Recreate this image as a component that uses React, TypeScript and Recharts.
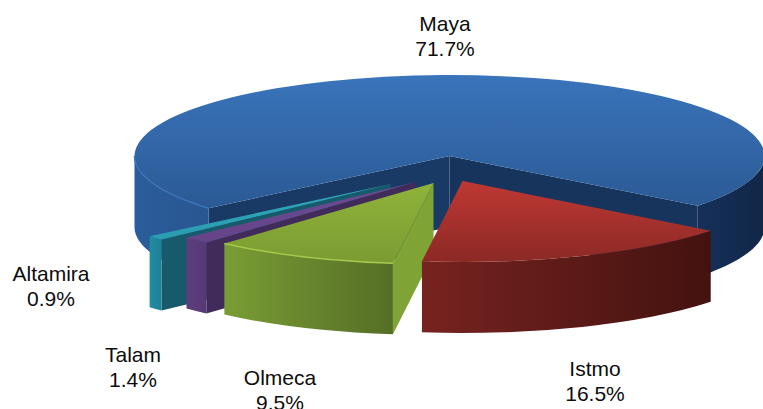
import React from "react";
import { PieChart, Pie } from "recharts";

const names = ["Maya", "Altamira", "Talam", "Olmeca", "Istmo"];
const shares = [71.7, 0.9, 1.4, 9.5, 16.5];
const chartData = names.map((name, i) => ({ name, value: shares[i] }));

const TILT = 81 / 315;
const DEPTH = 71;

type Look = {
  shift: [number, number];
  top: [string, string];
  walls: [string, string][];
  startFace: string;
  endFace: string;
  rim?: string;
  label: [number, number];
};

const looks: Record<string, Look> = {
  Maya: {
    shift: [0, 0],
    top: ["#3a74bb", "#2b5a95"],
    walls: [["#15305a", "#122748"], ["#2b5d9c", "#285690"]],
    startFace: "#17355c",
    endFace: "#1a3a66",
    rim: "#3a74ba",
    label: [-4.5, -125],
  },
  Altamira: {
    shift: [-59, 28],
    top: ["#2fa6bb", "#2a9cb0"],
    walls: [["#218ca3", "#1f8196"]],
    startFace: "#165a6b",
    endFace: "#165a6b",
    label: [-398.5, 125],
  },
  Talam: {
    shift: [-34, 26],
    top: ["#6e4c92", "#644388"],
    walls: [["#5e3f7e", "#553875"]],
    startFace: "#402b5a",
    endFace: "#402b5a",
    label: [-316.5, 206],
  },
  Olmeca: {
    shift: [-16, 27],
    top: ["#8fb33a", "#7b9b32"],
    walls: [["#7a9d34", "#556e26"]],
    startFace: "#7fa435",
    endFace: "#7fa435",
    rim: "#a6c84c",
    label: [-169.5, 229],
  },
  Istmo: {
    shift: [13, 25],
    top: ["#bf3833", "#8c2925"],
    walls: [["#772320", "#43120f"]],
    startFace: "#6e1f1c",
    endFace: "#6e1f1c",
    label: [145.5, 220],
  },
};

const rad = (d: number) => (d * Math.PI) / 180;

function SliceShape(props: any) {
  const { cx, cy, outerRadius: R, startAngle, endAngle, name, payload } = props;
  const key = name ?? payload?.name;
  const look = looks[key];
  const ox = cx + look.shift[0];
  const oy = cy + look.shift[1];
  const ry = R * TILT;
  const a0 = Math.min(startAngle, endAngle);
  const a1 = Math.max(startAngle, endAngle);
  const mid = (a0 + a1) / 2;
  const pt = (a: number, drop = 0): [number, number] => [
    ox + R * Math.cos(rad(a)),
    oy - ry * Math.sin(rad(a)) + drop,
  ];
  const arcTo = (a: number, b: number, drop = 0) => {
    const [x, y] = pt(b, drop);
    const large = Math.abs(b - a) > 180 ? 1 : 0;
    const sweep = b > a ? 0 : 1;
    return `A ${R} ${ry} 0 ${large} ${sweep} ${x} ${y}`;
  };
  const isFaceVisible = (a: number) => {
    const ex = Math.cos(rad(a));
    const ey = -TILT * Math.sin(rad(a));
    const mx = Math.cos(rad(mid));
    const my = -TILT * Math.sin(rad(mid));
    return Math.sign(ex) !== Math.sign(ex * my - ey * mx);
  };
  const face = (a: number, fill: string) => {
    if (!isFaceVisible(a)) return null;
    const [x, y] = pt(a);
    return (
      <path
        d={`M ${ox} ${oy} L ${x} ${y} L ${x} ${y + DEPTH} L ${ox} ${oy + DEPTH} Z`}
        fill={fill}
      />
    );
  };
  const segments: [number, number][] = [];
  for (const k of [-360, 0, 360]) {
    const lo = Math.max(a0, 180 + k);
    const hi = Math.min(a1, 360 + k);
    if (hi > lo) segments.push([lo, hi]);
  }
  const id = `g-${key}`;
  const [sx, sy] = pt(a0);
  const top = `M ${ox} ${oy} L ${sx} ${sy} ${arcTo(a0, a1)} Z`;
  return (
    <g>
      <defs>
        <linearGradient id={`${id}-top`} x1="0" y1="0" x2="0" y2="1">
          <stop offset="0" stopColor={look.top[0]} />
          <stop offset="1" stopColor={look.top[1]} />
        </linearGradient>
        {segments.map((_, i) => {
          const c = look.walls[Math.min(i, look.walls.length - 1)];
          return (
            <linearGradient key={i} id={`${id}-wall${i}`} x1="0" y1="0" x2="1" y2="0">
              <stop offset="0" stopColor={c[0]} />
              <stop offset="1" stopColor={c[1]} />
            </linearGradient>
          );
        })}
      </defs>
      {face(a1, look.endFace)}
      {face(a0, look.startFace)}
      {segments.map(([lo, hi], i) => {
        const [x0, y0] = pt(lo);
        const [x1, y1] = pt(hi, DEPTH);
        return (
          <path
            key={i}
            d={`M ${x0} ${y0} ${arcTo(lo, hi)} L ${x1} ${y1} ${arcTo(hi, lo, DEPTH)} Z`}
            fill={`url(#${id}-wall${i})`}
          />
        );
      })}
      <path d={top} fill={`url(#${id}-top)`} />
      {look.rim
        ? segments
            .filter(([lo]) => lo > 0)
            .map(([lo, hi], i) => {
              const [x0, y0] = pt(lo);
              return (
                <path
                  key={i}
                  d={`M ${x0} ${y0} ${arcTo(lo, hi)}`}
                  fill="none"
                  stroke={look.rim}
                  strokeWidth={1.5}
                />
              );
            })
        : null}
    </g>
  );
}

function SliceLabel(props: any) {
  const { cx, cy, name, value } = props;
  const [dx, dy] = looks[name].label;
  const x = cx + dx;
  const y = cy + dy;
  return (
    <text
      x={x}
      y={y}
      textAnchor="middle"
      fontFamily="'Liberation Sans', Arial, sans-serif"
      fontSize={21}
      fill="#0d0d0d"
    >
      <tspan x={x} y={y}>{name}</tspan>
      <tspan x={x} y={y + 24.5}>{`${Number(value).toFixed(1)}%`}</tspan>
    </text>
  );
}

export default function App() {
  return (
    <div style={{ position: "absolute", left: 0, top: 0, width: 763, height: 409, overflow: "hidden", background: "#fff" }}>
      <PieChart width={763} height={409} margin={{ top: 0, right: 0, bottom: 0, left: 0 }}>
        <Pie
          data={chartData}
          dataKey="value"
          nameKey="name"
          cx={449.5}
          cy={156}
          innerRadius={0}
          outerRadius={315}
          startAngle={-38}
          endAngle={322}
          stroke="none"
          isAnimationActive={false}
          shape={SliceShape}
          label={SliceLabel}
          labelLine={false}
        />
      </PieChart>
    </div>
  );
}
